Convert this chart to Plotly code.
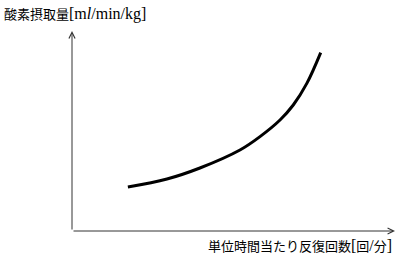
import plotly.graph_objects as go

# curve values (arbitrary units)
rate = [17.3, 29.4, 39.6, 52.0, 58.2, 64.4, 68.5, 72.7, 77.0]
vo2 = [22.0, 26.0, 31.5, 40.5, 47.2, 55.5, 63.0, 73.8, 89.2]

L = "<span style='font-size:16px'>"
E = "</span>"
y_title = "酸素摂取量" + L + "[m<i>l</i>/min/kg]" + E
x_title = "単位時間当たり反復回数" + L + "[" + E + "回" + L + "/" + E + "分" + L + "]" + E

FONT = "Liberation Serif, Noto Sans CJK JP, serif"

fig = go.Figure()
fig.add_trace(go.Scatter(x=rate, y=vo2, mode="lines",
                         line=dict(color="black", width=3, shape="spline", smoothing=1.0),
                         hoverinfo="skip", showlegend=False))

axis_common = dict(showgrid=False, zeroline=False, showticklabels=False, ticks="",
                   showline=False, fixedrange=True)
fig.update_layout(
    width=400, height=261,
    margin=dict(l=72, r=5, t=31, b=30),
    paper_bgcolor="white", plot_bgcolor="white",
    xaxis=dict(range=[0, 100], **axis_common),
    yaxis=dict(range=[0, 100], **axis_common),
    annotations=[
        # y axis arrow
        dict(x=0, y=100, ax=0, ay=0, xref="x", yref="y", axref="x", ayref="y",
             showarrow=True, arrowhead=5, arrowsize=1.2, arrowwidth=1, arrowcolor="#333", text=""),
        # x axis arrow
        dict(x=100, y=0, ax=0, ay=0, xref="x", yref="y", axref="x", ayref="y",
             showarrow=True, arrowhead=5, arrowsize=1.2, arrowwidth=1, arrowcolor="#333", text=""),
        dict(text=y_title, xref="paper", yref="paper", x=-70/323, y=1.14,
             xanchor="left", yanchor="top", showarrow=False,
             font=dict(family=FONT, size=13, color="black")),
        dict(text=x_title, xref="paper", yref="paper", x=0.997, y=-0.07,
             xanchor="right", yanchor="middle", showarrow=False,
             font=dict(family=FONT, size=13, color="black")),
    ],
)

fig.write_html("out.html")
